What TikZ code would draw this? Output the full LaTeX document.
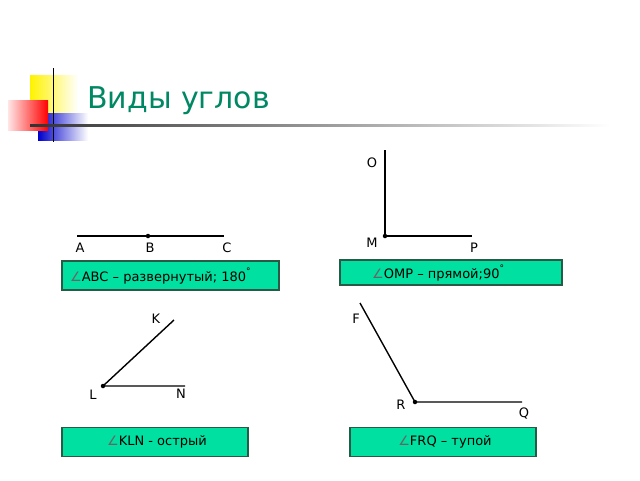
\documentclass[tikz,border=0pt]{standalone}
\usepackage{fontspec}
\setmainfont{DejaVu Sans}
\usetikzlibrary{shadings}
\definecolor{ttl}{RGB}{0,135,100}
\definecolor{boxg}{RGB}{0,224,160}
\definecolor{boxd}{RGB}{40,90,70}
\begin{document}
\begin{tikzpicture}[x=1pt,y=-1pt,
  lbl/.style={font=\fontsize{13}{13}\selectfont},
  gbox/.style={draw=boxd,line width=1.6pt,fill=boxg,inner sep=0pt,font=\fontsize{13}{13}\selectfont},
  seg/.style={line width=1.4pt},
  pt/.style={circle,fill=black,inner sep=0pt,minimum size=4.5pt}]
\useasboundingbox (0,0) rectangle (640,480);
% decoration
\shade[left color=yellow!90!orange,right color=white] (30,75) rectangle (78,118);
\shade[left color=blue!80!black,right color=white] (38,113) rectangle (88,140);
\shade[right color=red,left color=red!10] (8,100) rectangle (48,130);
\draw[line width=1pt] (53,68) -- (53,142);
\shade[left color=black!80,right color=white] (30,124) rectangle (610,126.5);
\node[anchor=base west,text=ttl,font=\fontsize{30}{30}\selectfont,inner sep=0pt] (title) at (87,108) {Виды углов};
% ABC
\node[pt] (B) at (148,236) {};
\coordinate (A0) at (77,236); \coordinate (C0) at (224,236);
\draw[seg] (A0) -- (C0);
\node[lbl] (A) at (80,248) {A};
\node[lbl] (Bl) at (150,248) {B};
\node[lbl] (C) at (227,248) {C};
\node[gbox,minimum width=217pt,minimum height=29pt] (b1) at (170.5,275.5) {};
\node[font=\fontsize{13}{13}\selectfont,anchor=west,inner sep=0pt] (t1) at (70,276) {\textcolor{black!60}{∠}ABC – развернутый; 180\rlap{\raisebox{1.1ex}{\fontsize{9}{9}\selectfont °}}};
% OMP
\node[pt] (M) at (385,236) {};
\coordinate (O0) at (385,150); \coordinate (P0) at (472,236);
\draw[seg] (O0) -- (M.center) -- (P0);
\node[lbl] (O) at (372,163) {O};
\node[lbl] (Ml) at (372,243) {M};
\node[lbl] (P) at (474,248) {P};
\node[gbox,minimum width=222pt,minimum height=25pt] (b2) at (451,272.5) {};
\node[font=\fontsize{13}{13}\selectfont,anchor=west,inner sep=0pt] (t2) at (372,273) {\textcolor{black!60}{∠}OMP – прямой;90\rlap{\raisebox{1.1ex}{\fontsize{9}{9}\selectfont °}}};
% KLN
\node[pt] (L) at (103,386) {};
\coordinate (K0) at (174,320); \coordinate (N0) at (185,386);
\draw[seg] (K0) -- (L.center) -- (N0);
\node[lbl] (K) at (156,319) {K};
\node[lbl] (Ll) at (93,395) {L};
\node[lbl] (N) at (181,394) {N};
\node[gbox,minimum width=186pt,minimum height=29pt] (b3) at (155,442) {};
\node[font=\fontsize{13}{13}\selectfont] (t3) at (157,442) {\textcolor{black!60}{∠}KLN - острый};
% FRQ
\node[pt] (R) at (415,402) {};
\coordinate (F0) at (360,303); \coordinate (Q0) at (522,402);
\draw[seg] (F0) -- (R.center) -- (Q0);
\node[lbl] (F) at (356,319) {F};
\node[lbl] (Rl) at (401,405) {R};
\node[lbl] (Q) at (524,414) {Q};
\node[gbox,minimum width=186pt,minimum height=29pt] (b4) at (443,442) {};
\node[font=\fontsize{13}{13}\selectfont] (t4) at (445,442) {\textcolor{black!60}{∠}FRQ – тупой};
\end{tikzpicture}
\end{document}
